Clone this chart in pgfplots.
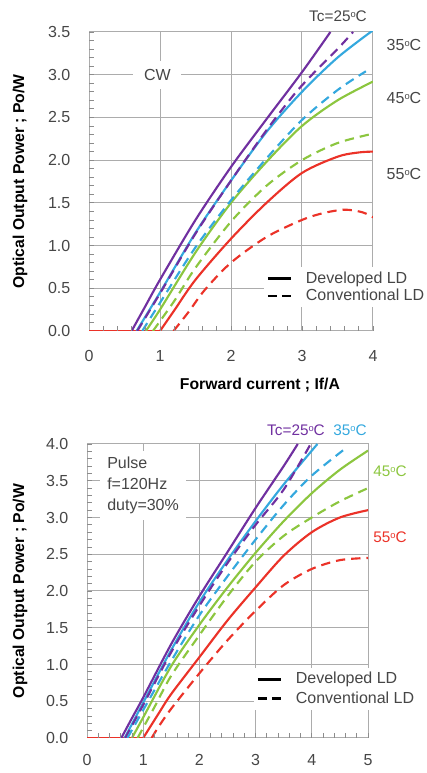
\documentclass[border=0pt]{standalone}
\usepackage{fontspec}
\setmainfont{Liberation Sans}
\setsansfont{Liberation Sans}
\usepackage{pgfplots}
\pgfplotsset{compat=1.18}

\definecolor{cPurple}{RGB}{112,48,160}
\definecolor{cBlue}{RGB}{52,168,222}
\definecolor{cGreen}{RGB}{140,198,63}
\definecolor{cRed}{RGB}{235,50,40}
\definecolor{gridgray}{RGB}{172,172,172}
\definecolor{tickgray}{RGB}{140,140,140}
\definecolor{txtgray}{RGB}{70,70,70}

\newcommand{\degc}{\raisebox{0.5ex}{\fontsize{7}{7}\selectfont o}C}

\pgfplotsset{
  ldaxis/.style={
    scale only axis, anchor=south west, clip=true,
    axis line style={gridgray, line width=0.75pt},
    grid=major,
    major grid style={gridgray, line width=0.75pt},
    tick pos=left, tick align=inside, major tick length=0pt,
    tick label style={font=\fontsize{12}{14}\selectfont, text=txtgray},
    /pgf/number format/assume math mode=true,
    yticklabel style={/pgf/number format/fixed, /pgf/number format/fixed zerofill, /pgf/number format/precision=1},
    yticklabel shift=10.5pt,
    ylabel={Optical Output Power ; Po/W},
    ylabel style={font=\bfseries\fontsize{11.8}{14}\selectfont, text=black, anchor=center},
    legend cell align=left,
    legend style={draw=none, fill=white, font=\fontsize{12}{14}\selectfont, text=txtgray,
      anchor=north west, inner sep=2pt, row sep=0pt, column sep=9pt, nodes={inner sep=1.5pt}},
    legend image code/.code={\draw[#1] (0pt,0pt) -- (17pt,0pt);},
  },
  % short inside ticks every 1/nx of the x range and 1/ny of the y range
  minorticks/.style 2 args={
    extra description/.code={
      \foreach \i in {1,...,#1} {\draw[tickgray, line width=0.6pt] (axis description cs:\i/#1,0) -- ++(0,3.5pt);}
      \foreach \j in {1,...,#2} {\draw[tickgray, line width=0.6pt] (axis description cs:0,\j/#2) -- ++(3.5pt,0);}
    },
  },
  dev/.style={line width=1.6pt, smooth, forget plot},
  flat/.style={line width=1.6pt, forget plot},
  conv/.style={line width=1.6pt, smooth, dash pattern=on 7pt off 4.5pt, forget plot},
}

\begin{document}
\begin{tikzpicture}
\useasboundingbox (0,0) rectangle (320.25pt,579.75pt);

% ---------------- CW ----------------
\begin{axis}[ldaxis, minorticks={20}{35},
  at={(66.75pt,331.5pt)}, width=213pt, height=224.25pt,
  xmin=0, xmax=4, ymin=0, ymax=3.5,
  xtick={0,1,2,3,4}, ytick={0,0.5,...,3.5},
  xticklabel shift=11pt,
  xlabel={Forward current ; If/A},
  xlabel style={font=\bfseries\fontsize{11.8}{14}\selectfont, text=black, at={(axis description cs:0.602,-0.181)}, anchor=center},
  ylabel style={at={(axis description cs:-0.243,0.5)}},
  legend style={at={(axis description cs:0.615,0.215)}},
]
\addplot[flat, cPurple] coordinates {(0,0) (0.6,0)};
\addplot[flat, cBlue] coordinates {(0,0) (0.67,0)};
\addplot[flat, cGreen] coordinates {(0,0) (0.8,0)};
\addplot[flat, cRed] coordinates {(0,0) (1.0,0)};
% developed LD
\addplot[dev, cPurple] coordinates {(0.6,0) (0.8,0.3) (1,0.6) (1.5,1.3) (2,1.92) (2.5,2.48) (3,3.03) (3.4,3.5)};
\addplot[dev, cBlue] coordinates {(0.67,0) (1,0.45) (1.5,1.15) (2,1.76) (2.5,2.33) (3,2.8) (3.5,3.2) (4,3.52)};
\addplot[dev, cGreen] coordinates {(0.8,0) (1,0.25) (1.5,0.92) (2,1.5) (2.5,1.98) (3,2.4) (3.5,2.7) (4,2.92)};
\addplot[dev, cRed] coordinates {(1.0,0) (1.2,0.24) (1.5,0.6) (2,1.08) (2.5,1.5) (3,1.85) (3.5,2.04) (3.8,2.09) (4,2.1)};
% conventional LD
\addplot[conv, cPurple] coordinates {(0.68,0) (1,0.44) (1.5,1.14) (2,1.76) (2.5,2.35) (2.9,2.78) (3.2,3.05) (3.5,3.3) (3.72,3.5)};
\addplot[conv, cBlue] coordinates {(0.75,0) (1,0.33) (1.5,0.98) (2,1.53) (2.5,2.02) (3,2.47) (3.5,2.82) (3.9,3.04)};
\addplot[conv, cGreen] coordinates {(0.9,0) (1.2,0.35) (1.5,0.74) (2,1.28) (2.5,1.7) (3,2.0) (3.5,2.2) (4,2.31)};
\addplot[conv, cRed] coordinates {(1.19,0) (1.4,0.22) (1.63,0.48) (2,0.8) (2.5,1.1) (3,1.3) (3.3,1.38) (3.6,1.42) (3.85,1.39) (4,1.33)};
\addlegendimage{black, line width=2pt}
\addlegendentry{Developed LD}
\addlegendimage{black, line width=2pt, dash pattern=on 6.5pt off 4pt}
\addlegendentry{Conventional LD}
\end{axis}

% ---------------- Pulse ----------------
\begin{axis}[ldaxis, minorticks={25}{40},
  at={(65.25pt,26.25pt)}, width=210.75pt, height=220.5pt,
  xmin=0, xmax=5, ymin=0, ymax=4,
  xtick={0,1,2,3,4,5}, ytick={0,0.5,...,4},
  xticklabel shift=8.5pt,
  ylabel style={at={(axis description cs:-0.238,0.5)}},
  legend style={at={(axis description cs:0.593,0.24)}, row sep=1.5pt},
]
\addplot[flat, cPurple] coordinates {(0,0) (0.61,0)};
\addplot[flat, cBlue] coordinates {(0,0) (0.67,0)};
\addplot[flat, cGreen] coordinates {(0,0) (0.8,0)};
\addplot[flat, cRed] coordinates {(0,0) (1.0,0)};
% developed LD
\addplot[dev, cPurple] coordinates {(0.61,0) (0.8,0.27) (1,0.55) (1.5,1.28) (2,1.93) (2.5,2.53) (3,3.13) (3.5,3.7) (3.75,4.0)};
\addplot[dev, cBlue] coordinates {(0.67,0) (1,0.48) (1.5,1.2) (2,1.85) (2.5,2.42) (3,2.95) (3.5,3.45) (4.1,4.0)};
\addplot[dev, cGreen] coordinates {(0.8,0) (1,0.28) (1.5,0.98) (2,1.54) (2.5,2.05) (3,2.52) (3.5,2.95) (4,3.33) (4.5,3.65) (5,3.91)};
\addplot[dev, cRed] coordinates {(1.0,0) (1.28,0.34) (1.5,0.6) (2,1.1) (2.5,1.6) (3,2.05) (3.5,2.48) (4,2.8) (4.5,3.0) (5,3.1)};
% conventional LD
\addplot[conv, cPurple] coordinates {(0.68,0) (1,0.45) (1.5,1.17) (2,1.8) (2.5,2.38) (3,2.9) (3.5,3.38) (3.98,4.0)};
\addplot[conv, cBlue] coordinates {(0.72,0) (1,0.38) (1.5,1.05) (2,1.67) (2.5,2.2) (3,2.7) (3.5,3.17) (4,3.57) (4.6,3.94)};
\addplot[conv, cGreen] coordinates {(0.9,0) (1.2,0.42) (1.5,0.85) (2,1.4) (2.5,1.93) (3,2.4) (3.5,2.75) (4,3.0) (4.5,3.22) (5,3.4)};
\addplot[conv, cRed] coordinates {(1.15,0) (1.28,0.16) (1.5,0.4) (2,0.88) (2.5,1.33) (3,1.73) (3.5,2.08) (4,2.3) (4.5,2.42) (5,2.45)};
\addlegendimage{black, line width=2pt}
\addlegendentry{Developed LD}
\addlegendimage{black, line width=2pt, dash pattern=on 6.5pt off 4pt}
\addlegendentry{Conventional LD}
\end{axis}

% annotations, CW panel
\node[font=\fontsize{12}{14}\selectfont, text=txtgray, fill=white, inner xsep=8pt, inner ysep=6pt] at (118.1pt,523.5pt) {CW};
\node[font=\fontsize{11.5}{14}\selectfont, text=txtgray] at (253.5pt,567.75pt) {Tc=25\degc};
\node[font=\fontsize{12}{14}\selectfont, text=txtgray] at (303pt,546pt) {35\degc};
\node[font=\fontsize{12}{14}\selectfont, text=txtgray] at (303pt,506.25pt) {45\degc};
\node[font=\fontsize{12}{14}\selectfont, text=txtgray] at (303pt,449.25pt) {55\degc};

% annotations, pulse panel
\node[font=\fontsize{12}{16}\selectfont, text=txtgray, fill=white, align=left, anchor=north west, inner xsep=5.25pt, inner ysep=4pt] at (75pt,241.5pt) {Pulse\\f=120Hz\\duty=30\%};
\node[font=\fontsize{11.5}{14}\selectfont, text=cPurple] at (222pt,257.25pt) {Tc=25\degc};
\node[font=\fontsize{11.5}{14}\selectfont, text=cBlue] at (262.5pt,257.25pt) {35\degc};
\node[font=\fontsize{11.5}{14}\selectfont, text=cGreen] at (292.5pt,226.5pt) {45\degc};
\node[font=\fontsize{11.5}{14}\selectfont, text=cRed] at (292.5pt,177pt) {55\degc};
\end{tikzpicture}
\end{document}
